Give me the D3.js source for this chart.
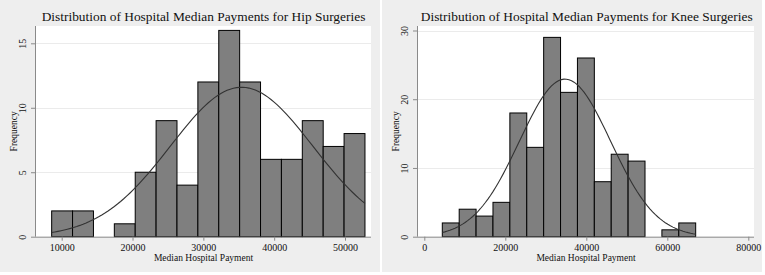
<!DOCTYPE html>
<html>
<head>
<meta charset="utf-8">
<script src="https://cdn.jsdelivr.net/npm/d3@7"></script>
<style>
	body { margin: 0; background: #fff; }
	text { font-family: "Liberation Serif", "Times New Roman", serif; fill: #111; }
	.grid line { stroke: #ebebeb; stroke-width: 1; }
	.bar { fill: #7f7f7f; stroke: #000; stroke-width: 1; }
	.curve { fill: none; stroke: #333; stroke-width: 1.1; }
	.axis path, .axis line { stroke: #8a8a8a; }
</style>
</head>
<body>
<script>
// hip surgeries: bin counts
var hipCounts = [2, 2, 0, 1, 5, 9, 4, 12, 16, 12, 6, 6, 9, 7, 8];
var hipBinStart = 8584;
var hipBinWidth = 2949;
var hipXTicks = [10000, 20000, 30000, 40000, 50000];
var hipYTicks = [0, 5, 10, 15];
var hipMean = 35400;
var hipSd = 10050;

// knee surgeries
var kneeCounts = [2, 4, 3, 5, 18, 13, 29, 21, 26, 8, 12, 11, 0, 1, 2];
var kneeBinStart = 4444;
var kneeBinWidth = 4171;
var kneeXTicks = [0, 20000, 40000, 60000, 80000];
var kneeYTicks = [0, 10, 20, 30];
var kneeMean = 34750;
var kneeSd = 11250;

var w = 765;
var h = 275;

var svg = d3.select("body")
	.append("svg")
	.attr("width", w)
	.attr("height", h);

function drawPanel(cfg) {
	var g = svg.append("g");

	// grey panel + white plot region
	g.append("rect")
		.attr("x", cfg.px).attr("y", 0)
		.attr("width", cfg.pw).attr("height", 272)
		.attr("fill", "#eeeeee");

	g.append("rect")
		.attr("x", cfg.left).attr("y", cfg.top)
		.attr("width", cfg.right - cfg.left).attr("height", cfg.bottom - cfg.top)
		.attr("fill", "#fff");

	var xScale = d3.scaleLinear()
		.domain(cfg.xDomain)
		.range([cfg.x0, cfg.x1]);

	var yScale = d3.scaleLinear()
		.domain([0, cfg.yTicks[cfg.yTicks.length - 1]])
		.range([cfg.bottom, cfg.yTop]);

	// gridlines
	g.append("g")
		.attr("class", "grid")
		.selectAll("line")
		.data(cfg.yTicks.filter(d => d > 0))
		.enter()
		.append("line")
		.attr("x1", cfg.left)
		.attr("x2", cfg.right)
		.attr("y1", d => Math.round(yScale(d)) + 0.5)
		.attr("y2", d => Math.round(yScale(d)) + 0.5);

	// bars
	var bins = cfg.counts.map((c, i) => ({
		x0: cfg.binStart + i * cfg.binWidth,
		x1: cfg.binStart + (i + 1) * cfg.binWidth,
		n: c
	}));

	g.selectAll("rect.bar")
		.data(bins.filter(d => d.n > 0))
		.enter()
		.append("rect")
		.attr("class", "bar")
		.attr("x", d => xScale(d.x0))
		.attr("y", d => yScale(d.n))
		.attr("width", d => xScale(d.x1) - xScale(d.x0))
		.attr("height", d => yScale(0) - yScale(d.n));

	// normal density overlay (fitted mean / sd)
	var total = d3.sum(cfg.counts);
	var lo = cfg.binStart;
	var hi = cfg.binStart + cfg.counts.length * cfg.binWidth;
	var pts = d3.range(0, 101).map(i => {
		var x = lo + (hi - lo) * i / 100;
		var z = (x - cfg.mean) / cfg.sd;
		return [x, total * cfg.binWidth * Math.exp(-z * z / 2) / (cfg.sd * Math.sqrt(2 * Math.PI))];
	});

	g.append("path")
		.attr("class", "curve")
		.attr("d", d3.line().x(d => xScale(d[0])).y(d => yScale(d[1]))(pts));

	//Define axes
	var xAxis = d3.axisBottom(xScale)
		.tickValues(cfg.xTicks)
		.tickSize(4)
		.tickFormat(d3.format("d"));

	var yAxis = d3.axisLeft(yScale)
		.tickValues(cfg.yTicks)
		.tickSize(4)
		.tickFormat(d3.format("d"));

	var xg = g.append("g")
		.attr("class", "axis")
		.attr("transform", "translate(0," + cfg.bottom + ")")
		.call(xAxis);
	xg.select(".domain").attr("d", "M" + cfg.left + ",0.5H" + cfg.right);
	xg.selectAll("text")
		.attr("font-size", "10px")
		.attr("y", 7.5)
		.attr("dy", "0.71em")
		.attr("font-family", "Liberation Serif, serif");

	var yg = g.append("g")
		.attr("class", "axis")
		.attr("transform", "translate(" + cfg.left + ",0)")
		.call(yAxis);
	yg.select(".domain").attr("d", "M0.5," + cfg.top + "V" + cfg.bottom);
	yg.selectAll("text")
		.attr("font-size", "10px")
		.attr("font-family", "Liberation Serif, serif")
		.attr("text-anchor", "middle")
		.attr("x", null)
		.attr("dy", null)
		.attr("transform", "translate(-9.5,0) rotate(-90)");

	// titles
	g.append("text")
		.text(cfg.title)
		.attr("x", cfg.titleX)
		.attr("y", 20.5)
		.attr("text-anchor", "middle")
		.attr("font-size", "13.4px");

	g.append("text")
		.text("Median Hospital Payment")
		.attr("x", (cfg.left + cfg.right) / 2 + 0.5)
		.attr("y", 261)
		.attr("text-anchor", "middle")
		.attr("font-size", "9.5px");

	g.append("text")
		.text("Frequency")
		.attr("transform", "translate(" + (cfg.left - 18.3) + "," + ((cfg.top + cfg.bottom) / 2) + ") rotate(-90)")
		.attr("text-anchor", "middle")
		.attr("font-size", "9.5px");
}

drawPanel({
	px: 0, pw: 380,
	left: 35, right: 371, top: 26, bottom: 236.7,
	x0: 61.7, x1: 345, xDomain: [10000, 50000],
	yTop: 43.3,
	counts: hipCounts, binStart: hipBinStart, binWidth: hipBinWidth,
	xTicks: hipXTicks, yTicks: hipYTicks,
	mean: hipMean, sd: hipSd,
	title: "Distribution of Hospital Median Payments for Hip Surgeries",
	titleX: 203.5
});

drawPanel({
	px: 382, pw: 380,
	left: 417, right: 754, top: 26, bottom: 236.7,
	x0: 424.3, x1: 748.3, xDomain: [0, 80000],
	yTop: 30.5,
	counts: kneeCounts, binStart: kneeBinStart, binWidth: kneeBinWidth,
	xTicks: kneeXTicks, yTicks: kneeYTicks,
	mean: kneeMean, sd: kneeSd,
	title: "Distribution of Hospital Median Payments for Knee Surgeries",
	titleX: 586.7
});
</script>
</body>
</html>
